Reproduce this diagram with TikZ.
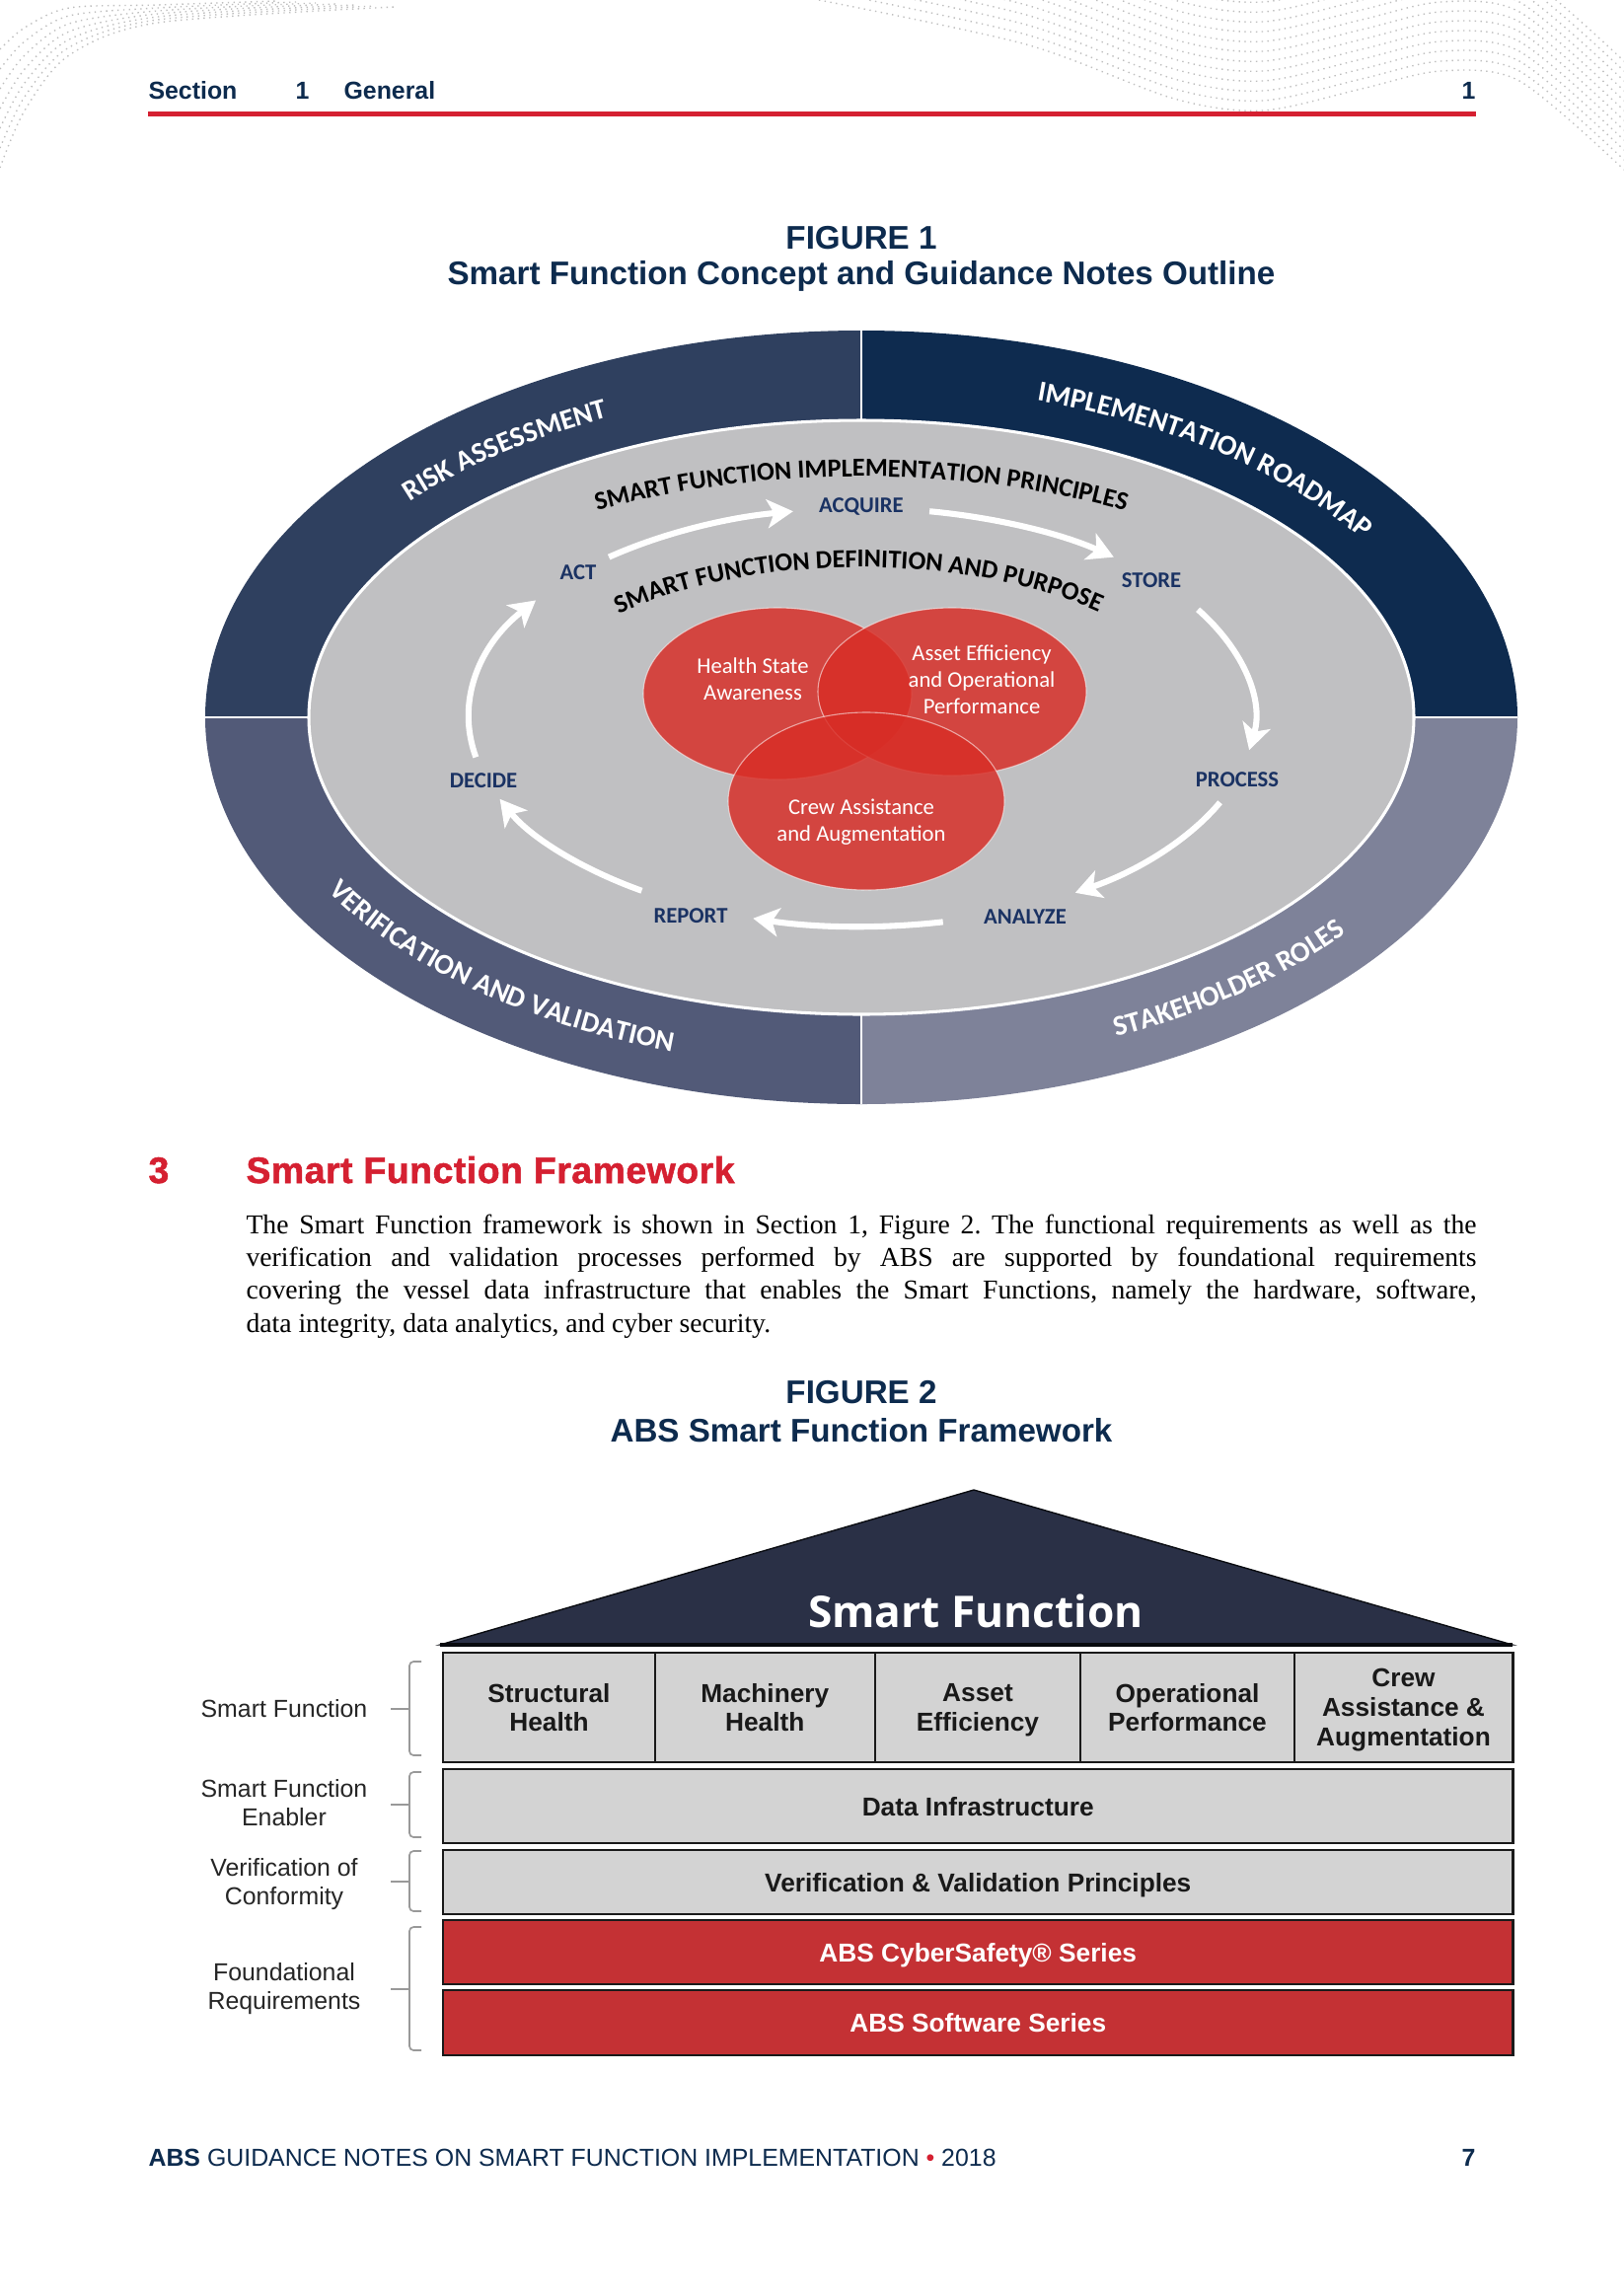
\documentclass[tikz,border=0pt]{standalone}
\usepackage{fontspec}
\setmainfont{Liberation Serif}
\newfontfamily\arialf{Liberation Sans}
\newfontfamily\arialblk[FakeBold=1.4, LetterSpace=1.5]{Liberation Sans}
\newfontfamily\calib{Carlito}
\newfontfamily\osans{Open Sans}
\usetikzlibrary{decorations.text,arrows.meta}
\newcommand\setfs[2]{\fontsize{#1}{#2}\selectfont}
\newcommand\pxu{0.36166pt}
\definecolor{navy}{HTML}{0D2B4E}
\definecolor{absred}{HTML}{D52031}
\definecolor{qtl}{HTML}{2F405F}
\definecolor{qtr}{HTML}{0E2B4F}
\definecolor{qbl}{HTML}{525A78}
\definecolor{qbr}{HTML}{7E8299}
\definecolor{ingray}{HTML}{C0C0C2}
\definecolor{cycblue}{HTML}{1A3263}
\definecolor{vennred}{RGB}{216,45,38}
\definecolor{roof}{HTML}{2A3046}
\definecolor{boxgray}{HTML}{D3D3D3}
\definecolor{boxred}{HTML}{C43134}
\definecolor{boxline}{HTML}{1A1A1A}
\tikzset{
  bgdots/.style={black!25, line width=0.5pt, dash pattern=on 0.5pt off 1.6pt},
  hdr/.style={font=\arialf\bfseries\setfs{9}{11}, text=navy, inner sep=0},
  ftitle/.style={font=\arialf\bfseries\setfs{12}{14}, text=navy, inner sep=0, anchor=base},
  cyclab/.style={font=\calib\bfseries\setfs{8.2}{10}, text=cycblue, inner sep=0},
  cyarrow/.style={white, line width=2.2pt, -{Stealth[length=9.5pt,width=10.5pt,inset=2.5pt]}},
  venn/.style={fill=vennred, fill opacity=0.83, draw=white, draw opacity=0.55, line width=0.4pt},
  venntext/.style={text=white, font=\calib\setfs{8.2}{9.7}, align=center, inner sep=0},
  cell/.style={draw=boxline, line width=0.75pt, fill=boxgray, inner sep=0, outer sep=0, align=center,
     font=\arialf\bfseries\setfs{9.5}{10.8}, text=black!90, text depth=0pt},
  redcell/.style={cell, fill=boxred, text=white},
  sidelab/.style={font=\arialf\setfs{9}{10.5}, text=black!85, align=center, inner sep=0, text depth=0pt},
  bracket/.style={gray!80, line width=0.6pt, rounded corners=1.5pt},
  ptext/.style={anchor=base west, inner sep=0, font=\setfs{10}{12}, text=black},
  ringtext/.style={decorate, decoration={text along path, text align=center, text color=white,
     text={|\calib\bfseries\setfs{10.5}{12}|#1}}},
  inntext/.style={decorate, decoration={text along path, text align=center, text color=black,
     text={|\calib\bfseries\setfs{9.5}{11}|#1}}}
}
\begin{document}
\frenchspacing
\begin{tikzpicture}[x=0.36166pt,y=0.36166pt]
\useasboundingbox (0,0) rectangle (1646,-2327);
\fill[white] (0,0) rectangle (1646,-2327);

% ---- background dotted waves ----
\begin{scope}
  \clip (820,0) rectangle (1646,-210);
  \foreach \k in {0,...,11} {
    \draw[bgdots, shift={(0,\k*10)}] plot[smooth] coordinates {(830,0) (1040,-45) (1190,-100) (1280,-112) (1380,-90) (1460,-72) (1540,-82) (1646,-172)};
  }
\end{scope}
\begin{scope}
  \clip (0,0) rectangle (560,-200);
  \foreach \k in {0,...,6} {
    \draw[bgdots] plot[smooth] coordinates {(0,-170+\k*20) (25,-112+\k*14) (70,-56+\k*8) (160,-23+\k*3) (400-\k*20,-7+\k*1)};
  }
\end{scope}

% ---- header ----
\node[hdr, anchor=base west] (hsec) at (150,-100) {Section};
\node[hdr, anchor=base west] (hnum) at (299,-100) {1};
\node[hdr, anchor=base west] (hgen) at (348,-100) {General};
\node[hdr, anchor=base east] (hpage) at (1496,-100) {1};
\draw[absred, line width=1.6pt] (150,-115.5) -- (1496,-115.5);

% ---- figure 1 title ----
\node[ftitle] (f1a) at (873,-252) {FIGURE 1};
\node[ftitle] (f1b) at (873,-288) {Smart Function Concept and Guidance Notes Outline};

% ---- figure 1 ----
\begin{scope}[shift={(873,-727)}]
  \fill[qtl] (0,0) -- (-665,0) arc[start angle=180, end angle=90, x radius=665, y radius=392] -- cycle;
  \fill[qtr] (0,0) -- (0,392) arc[start angle=90, end angle=0, x radius=665, y radius=392] -- cycle;
  \fill[qbl] (0,0) -- (-665,0) arc[start angle=180, end angle=270, x radius=665, y radius=392] -- cycle;
  \fill[qbr] (0,0) -- (665,0) arc[start angle=0, end angle=-90, x radius=665, y radius=392] -- cycle;
  \draw[white, line width=1pt] (0,392) -- (0,-392);
  \draw[white, line width=1pt] (-665,0) -- (665,0);
  \draw[white, line width=1.1pt, fill=ingray] (0,0) ellipse[x radius=560, y radius=301];

  % outer ring texts
  \path[ringtext={RISK ASSESSMENT}]
     (146:602 and 336) arc[start angle=146, end angle=110, x radius=602, y radius=336];
  \path[ringtext={IMPLEMENTATION ROADMAP}]
     (76:602 and 336) arc[start angle=76, end angle=28, x radius=602, y radius=336];
  \path[ringtext={VERIFICATION AND VALIDATION}]
     (204:622 and 356) arc[start angle=204, end angle=256, x radius=622, y radius=356];
  \path[ringtext={STAKEHOLDER ROLES}]
     (290:622 and 356) arc[start angle=290, end angle=328, x radius=622, y radius=356];

  % inner curved texts
  \path[inntext={SMART FUNCTION IMPLEMENTATION PRINCIPLES}]
     (155:520 and 244) arc[start angle=155, end angle=25, x radius=520, y radius=244];
  \path[inntext={SMART FUNCTION DEFINITION AND PURPOSE}]
     (168:338 and 152) arc[start angle=168, end angle=14, x radius=338, y radius=152];

  % venn
  \path[venn] (-85,24) ellipse[x radius=136, y radius=87];
  \path[venn] (92,26) ellipse[x radius=136, y radius=85];
  \path[venn] (5,-85) ellipse[x radius=140, y radius=90];
  \node[venntext] (vh) at (-110,39) {Health State\\Awareness};
  \node[venntext] (va) at (122,38) {Asset Efficiency\\and Operational\\Performance};
  \node[venntext] (vc) at (0,-106) {Crew Assistance\\and Augmentation};

  % cycle labels
  \node[cyclab] (acq) at (0,214) {ACQUIRE};
  \node[cyclab] (sto) at (294,139) {STORE};
  \node[cyclab] (pro) at (381,-63) {PROCESS};
  \node[cyclab] (ana) at (166,-202) {ANALYZE};
  \node[cyclab] (rep) at (-173,-201) {REPORT};
  \node[cyclab] (dec) at (-383,-64) {DECIDE};
  \node[cyclab] (act) at (-287,147) {ACT};

  % cycle arrows
  \draw[cyarrow] (130:398 and 212) arc[start angle=130, end angle=100, x radius=398, y radius=212];
  \draw[cyarrow] (80:398 and 212) arc[start angle=80, end angle=50, x radius=398, y radius=212];
  \draw[cyarrow] (31:398 and 212) arc[start angle=31, end angle=-9, x radius=398, y radius=212];
  \draw[cyarrow] (-24:398 and 212) arc[start angle=-24, end angle=-57, x radius=398, y radius=212];
  \draw[cyarrow] (-78:398 and 212) arc[start angle=-78, end angle=-106, x radius=398, y radius=212];
  \draw[cyarrow] (236:398 and 212) arc[start angle=236, end angle=203, x radius=398, y radius=212];
  \draw[cyarrow] (191:398 and 212) arc[start angle=191, end angle=146, x radius=398, y radius=212];
\end{scope}

% ---- section 3 ----
\node[anchor=base west, inner sep=0, font=\arialblk\bfseries\setfs{13.5}{15}, text=absred] (s3n) at (150,-1199) {3};
\node[anchor=base west, inner sep=0, font=\arialblk\bfseries\setfs{13.5}{15}, text=absred] (s3t) at (249,-1199) {Smart Function Framework};
\node[ptext] (p1) at (249,-1250) {\makebox[451pt][s]{The Smart Function framework is shown in Section 1, Figure 2. The functional requirements as well as the}};
\node[ptext] (p2) at (249,-1283.3) {\makebox[451pt][s]{verification and validation processes performed by ABS are supported by foundational requirements}};
\node[ptext] (p3) at (249,-1316.6) {\makebox[451pt][s]{covering the vessel data infrastructure that enables the Smart Functions, namely the hardware, software,}};
\node[ptext] (p4) at (249,-1350) {data integrity, data analytics, and cyber security.};

% ---- figure 2 title ----
\node[ftitle] (f2a) at (873,-1422) {FIGURE 2};
\node[ftitle] (f2b) at (873,-1461) {ABS Smart Function Framework};

% ---- figure 2 ----
\fill[roof, draw=black!75!roof, line width=0.5pt] (987,-1510) -- (446,-1667) -- (1533,-1667) -- cycle;
\draw[black!80!roof, line width=1.2pt] (446,-1667) -- (1533,-1667);
\node[anchor=base, inner sep=0, font=\osans\bfseries\setfs{16}{18}, text=white] (roofT) at (989,-1649) {Smart Function};

\node[cell, minimum width=215*\pxu, minimum height=111*\pxu] (c1) at (556.5,-1730.5) {Structural\\Health};
\node[cell, minimum width=222.6*\pxu, minimum height=111*\pxu] (c2) at (775.3,-1730.5) {Machinery\\Health};
\node[cell, minimum width=208.9*\pxu, minimum height=111*\pxu] (c3) at (991,-1730.5) {Asset\\Efficiency};
\node[cell, minimum width=216.1*\pxu, minimum height=111*\pxu] (c4) at (1203.5,-1730.5) {Operational\\Performance};
\node[cell, minimum width=221.9*\pxu, minimum height=111*\pxu] (c5) at (1422.5,-1730.5) {Crew\\Assistance \&\\Augmentation};

\node[cell, minimum width=1084.5*\pxu, minimum height=75*\pxu] (di) at (991.25,-1830.5) {Data Infrastructure};
\node[cell, minimum width=1084.5*\pxu, minimum height=65*\pxu] (vv) at (991.25,-1907.5) {Verification \& Validation Principles};
\node[redcell, minimum width=1084.5*\pxu, minimum height=65*\pxu] (cs) at (991.25,-1978.5) {ABS CyberSafety® Series};
\node[redcell, minimum width=1084.5*\pxu, minimum height=66*\pxu] (sw) at (991.25,-2050) {ABS Software Series};

\node[sidelab] (l1) at (288,-1731) {Smart Function};
\node[sidelab] (l2) at (288,-1827) {Smart Function\\Enabler};
\node[sidelab] (l3) at (288,-1907) {Verification of\\Conformity};
\node[sidelab] (l4) at (288,-2013) {Foundational\\Requirements};

\draw[bracket] (427,-1684) -- (415,-1684) -- (415,-1779) -- (427,-1779);
\draw[bracket] (415,-1732) -- (396,-1732);
\draw[bracket] (427,-1796) -- (415,-1796) -- (415,-1862) -- (427,-1862);
\draw[bracket] (415,-1829) -- (396,-1829);
\draw[bracket] (427,-1876) -- (415,-1876) -- (415,-1937) -- (427,-1937);
\draw[bracket] (415,-1907) -- (396,-1907);
\draw[bracket] (427,-1953) -- (415,-1953) -- (415,-2078) -- (427,-2078);
\draw[bracket] (415,-2016) -- (396,-2016);

% ---- footer ----
\node[anchor=base west, inner sep=0, font=\arialf\setfs{9}{11}, text=navy] (foot) at (150,-2195)
  {\textbf{ABS} GUIDANCE NOTES ON SMART FUNCTION IMPLEMENTATION {\color{absred}•} 2018};
\node[anchor=base east, inner sep=0, font=\arialf\bfseries\setfs{9}{11}, text=navy] (fpage) at (1496,-2195) {7};
\end{tikzpicture}
\end{document}
